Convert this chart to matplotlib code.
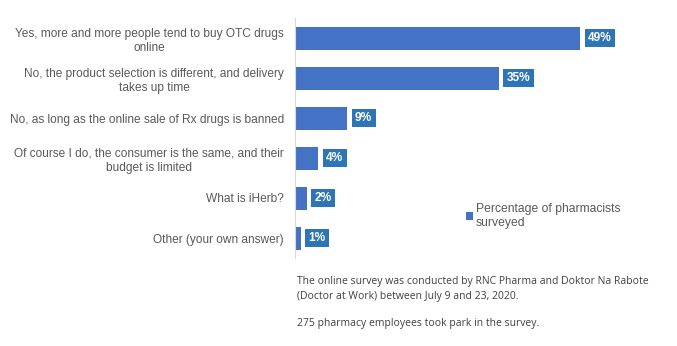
import matplotlib.pyplot as plt

# Survey data (top to bottom)
categories = [
    "Yes, more and more people tend to buy OTC drugs\nonline",
    "No, the product selection is different, and delivery\ntakes up time",
    "No, as long as the online sale of Rx drugs is banned",
    "Of course I do, the consumer is the same, and their\nbudget is limited",
    "What is iHerb?",
    "Other (your own answer)",
]
values = [49, 35, 9, 4, 2, 1]
series_name = "Percentage of pharmacists\nsurveyed"
note = ("The online survey was conducted by RNC Pharma and Doktor Na Rabote\n"
        "(Doctor at Work) between July 9 and 23, 2020.")
note2 = "275 pharmacy employees took park in the survey."

W, H = 677, 346
fig = plt.figure(figsize=(W / 100, H / 100), dpi=100)
ax = fig.add_axes([295 / W, (H - 258) / H, (W - 295) / W, 240 / H])

pos = list(range(len(values)))
bars = ax.barh(pos, values, height=0.575, color="#4472C4", label=series_name)
ax.set_ylim(len(values) - 0.5, -0.5)
ax.set_xlim(0, 65.6)

ax.set_yticks(pos)
ax.set_yticklabels(categories, fontsize=8.6, color="#595959",
                   family="Liberation Sans", multialignment="center",
                   linespacing=1.25)
ax.tick_params(axis="y", length=0, pad=8)
ax.tick_params(axis="x", length=0, labelbottom=False)

for s in ["top", "right", "bottom"]:
    ax.spines[s].set_visible(False)
ax.spines["left"].set_color("#D9D9D9")

# data labels in boxes
for p, v in zip(pos, values):
    ax.annotate(f"{v}%", xy=(v, p), xytext=(5.5, 0), textcoords="offset points",
                ha="left", va="center", fontsize=8.6, fontweight="bold",
                color="white", family="Liberation Sans",
                bbox=dict(boxstyle="square,pad=0.28", fc="#2E75B6", ec="none"))

fig.legend(handles=[bars], loc="upper left", bbox_to_anchor=(455 / W, (H - 192) / H),
           frameon=False, handlelength=0.6, handleheight=0.6, handletextpad=0.2,
           prop={"family": "Liberation Sans", "size": 8.7}, labelcolor="#595959")

fig.text(297 / W, (H - 276) / H, note, fontsize=7.45, color="#404040",
         family="Open Sans", va="top", linespacing=1.45)
fig.text(297 / W, (H - 318) / H, note2, fontsize=7.45, color="#404040",
         family="Open Sans", va="top")

fig.savefig("out.png", dpi=100)
